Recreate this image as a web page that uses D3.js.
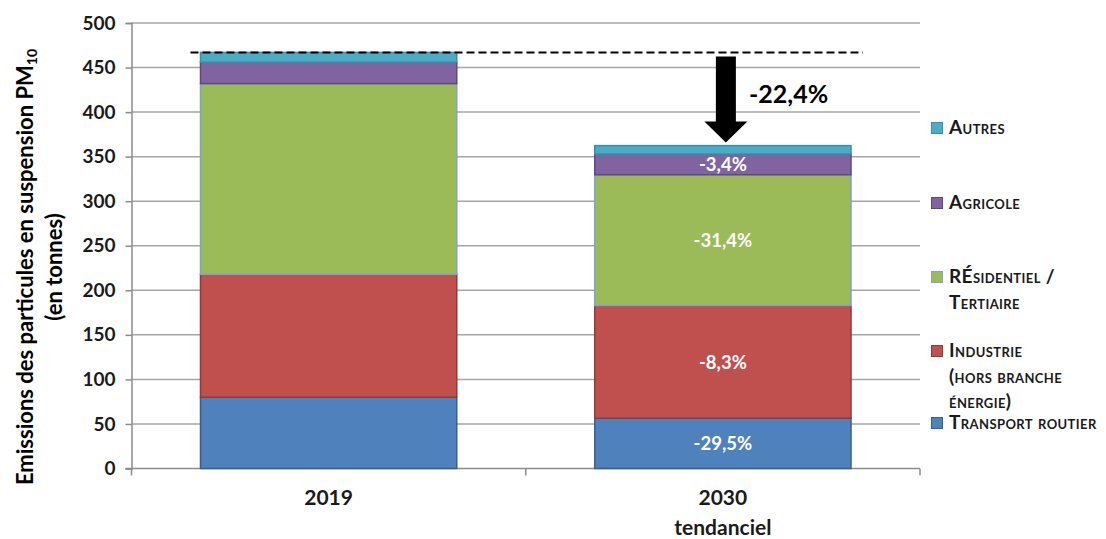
<!DOCTYPE html>
<html>
<head>
<meta charset="utf-8">
<script src="https://cdn.jsdelivr.net/npm/d3@7"></script>
<style>
  html, body { margin: 0; padding: 0; background: #fff; }
  svg { display: block; font-family: Lato, "Liberation Sans", sans-serif; }
</style>
</head>
<body>
<svg id="chart" width="1106" height="539"></svg>
<script>
// PM10 emissions by sector (tonnes), 2019 vs 2030 trend scenario
const categories = ["2019", "2030"];
const categoryLines = [["2019"], ["2030", "tendanciel"]];
const sectors = ["transport", "industrie", "residentiel", "agricole", "autres"];
const transport   = [80.0, 56.4];
const industrie   = [138.0, 126.5];
const residentiel = [214.0, 146.8];
const agricole    = [24.0, 23.2];
const autres      = [11.0, 9.5];
const changeLabels = ["-29,5%", "-8,3%", "-31,4%", "-3,4%", null];
const totalChange = "-22,4%";
const yTicks = [0, 50, 100, 150, 200, 250, 300, 350, 400, 450, 500];

const fills   = ["#4F81BD", "#C0504D", "#9BBB59", "#8064A2", "#4BACC6"];
const strokes = ["#3A5F8B", "#8E3B39", "#7FA2D0", "#5E4A7A", "#3A8FA6"];
const legendLines = [
  ["Transport routier"],
  ["Industrie", "(hors branche", "énergie)"],
  ["RÉsidentiel /", "Tertiaire"],
  ["Agricole"],
  ["Autres"]
];

const seriesValues = [transport, industrie, residentiel, agricole, autres];
const rows = categories.map((c, i) => {
  const r = { cat: c };
  sectors.forEach((s, k) => r[s] = seriesValues[k][i]);
  return r;
});
const stacked = d3.stack().keys(sectors)(rows);
const totals = rows.map(r => d3.sum(sectors, s => r[s]));

const svg = d3.select("#chart");
const plotLeft = 131.5, plotRight = 920, plotTop = 23, plotBottom = 468.5;

const y = d3.scaleLinear().domain([0, 500]).range([plotBottom, plotTop]);
const x = d3.scaleBand().domain(categories).range([plotLeft, plotRight])
  .paddingInner(0.35).paddingOuter(0.175);

// gridlines
svg.append("g").selectAll("line").data(yTicks.filter(t => t > 0)).join("line")
  .attr("x1", plotLeft).attr("x2", plotRight)
  .attr("y1", d => y(d)).attr("y2", d => y(d))
  .attr("stroke", "#a6a6a6").attr("stroke-width", 1.5);

// y axis
const yAxis = svg.append("g").attr("transform", `translate(${plotLeft},0)`)
  .call(d3.axisLeft(y).tickValues(yTicks).tickSize(6).tickPadding(10));
yAxis.select(".domain").attr("stroke", "#8c8c8c").attr("stroke-width", 1.5);
yAxis.selectAll(".tick line").attr("stroke", "#8c8c8c").attr("stroke-width", 1.5);
yAxis.selectAll(".tick text").attr("font-size", 19).attr("font-weight", "bold")
  .attr("fill", "#1a1a1a").attr("font-family", "Lato, 'Liberation Sans', sans-serif");

// x axis line and category separators
svg.append("line").attr("x1", plotLeft - 6).attr("x2", plotRight)
  .attr("y1", y(0)).attr("y2", y(0)).attr("stroke", "#8c8c8c").attr("stroke-width", 1.5);
const sepX = [plotLeft, x("2030") - x.step() * x.paddingInner() / 2, plotRight];
svg.append("g").selectAll("line").data(sepX).join("line")
  .attr("x1", d => d).attr("x2", d => d)
  .attr("y1", y(0)).attr("y2", y(0) + 7)
  .attr("stroke", "#8c8c8c").attr("stroke-width", 1.5);

// category labels
categoryLines.forEach((lines, i) => {
  const t = svg.append("text").attr("text-anchor", "middle")
    .attr("font-size", 21).attr("font-weight", "bold").attr("fill", "#1a1a1a");
  lines.forEach((l, j) => t.append("tspan")
    .attr("x", x(categories[i]) + x.bandwidth() / 2)
    .attr("y", 505 + j * 30).text(l));
});

// stacked bars
stacked.forEach((layer, k) => {
  svg.append("g").selectAll("rect").data(layer).join("rect")
    .attr("x", d => x(d.data.cat))
    .attr("width", x.bandwidth())
    .attr("y", d => y(d[1]))
    .attr("height", d => y(d[0]) - y(d[1]))
    .attr("fill", fills[k])
    .attr("stroke", strokes[k]).attr("stroke-width", 1.5);
});

// change labels on the 2030 bar
stacked.forEach((layer, k) => {
  if (!changeLabels[k]) return;
  const d = layer[1];
  svg.append("text")
    .attr("x", x("2030") + x.bandwidth() / 2)
    .attr("y", (y(d[0]) + y(d[1])) / 2 + 7)
    .attr("text-anchor", "middle")
    .attr("font-size", 18.5).attr("font-weight", "bold").attr("fill", "#fff")
    .text(changeLabels[k]);
});

// 2019 total reference line
svg.append("line")
  .attr("x1", x("2019") - 10).attr("x2", x("2030") + x.bandwidth() + 12)
  .attr("y1", y(totals[0])).attr("y2", y(totals[0]))
  .attr("stroke", "#000").attr("stroke-width", 2).attr("stroke-dasharray", "8,4");

// reduction arrow
const ax = x("2030") + x.bandwidth() / 2 + 3;
const aTop = y(totals[0]) + 4, aTip = y(totals[1]) - 3;
const headH = 21, shaftW = 10, headW = 21.5;
svg.append("path")
  .attr("d", `M${ax - shaftW},${aTop} L${ax + shaftW},${aTop} L${ax + shaftW},${aTip - headH}
    L${ax + headW},${aTip - headH} L${ax},${aTip} L${ax - headW},${aTip - headH}
    L${ax - shaftW},${aTip - headH} Z`)
  .attr("fill", "#000");
svg.append("text").attr("x", 749).attr("y", 103)
  .attr("font-size", 25).attr("font-weight", "bold").attr("fill", "#000")
  .text(totalChange);

// y axis title
const title = svg.append("text")
  .attr("transform", "translate(33,267) rotate(-90)")
  .attr("text-anchor", "middle").attr("font-size", 22).attr("font-weight", "bold").attr("fill", "#000");
title.append("tspan").text("Emissions des particules en suspension PM");
title.append("tspan").attr("font-size", 14).attr("dy", 4).text("10");
svg.append("text")
  .attr("transform", "translate(62,267) rotate(-90)")
  .attr("text-anchor", "middle").attr("font-size", 22).attr("font-weight", "bold").attr("fill", "#000")
  .text("(en tonnes)");

// legend, aligned with the segments of the 2030 bar
const legendY = [423, 351, 277, 203, 128];
const lg = svg.append("g");
legendLines.forEach((lines, k) => {
  const cy = legendY[k];
  lg.append("rect").attr("x", 931.5).attr("y", cy - 5.5).attr("width", 11).attr("height", 11)
    .attr("fill", fills[k]).attr("stroke", strokes[k]).attr("stroke-width", 1);
  const t = lg.append("text").attr("font-size", 19).attr("font-weight", "bold")
    .attr("letter-spacing", 0.4)
    .attr("fill", "#1a1a1a").style("font-variant", "small-caps");
  lines.forEach((l, j) => t.append("tspan").attr("x", 949).attr("y", cy + 6 + j * 25.5).text(l));
});
</script>
</body>
</html>
